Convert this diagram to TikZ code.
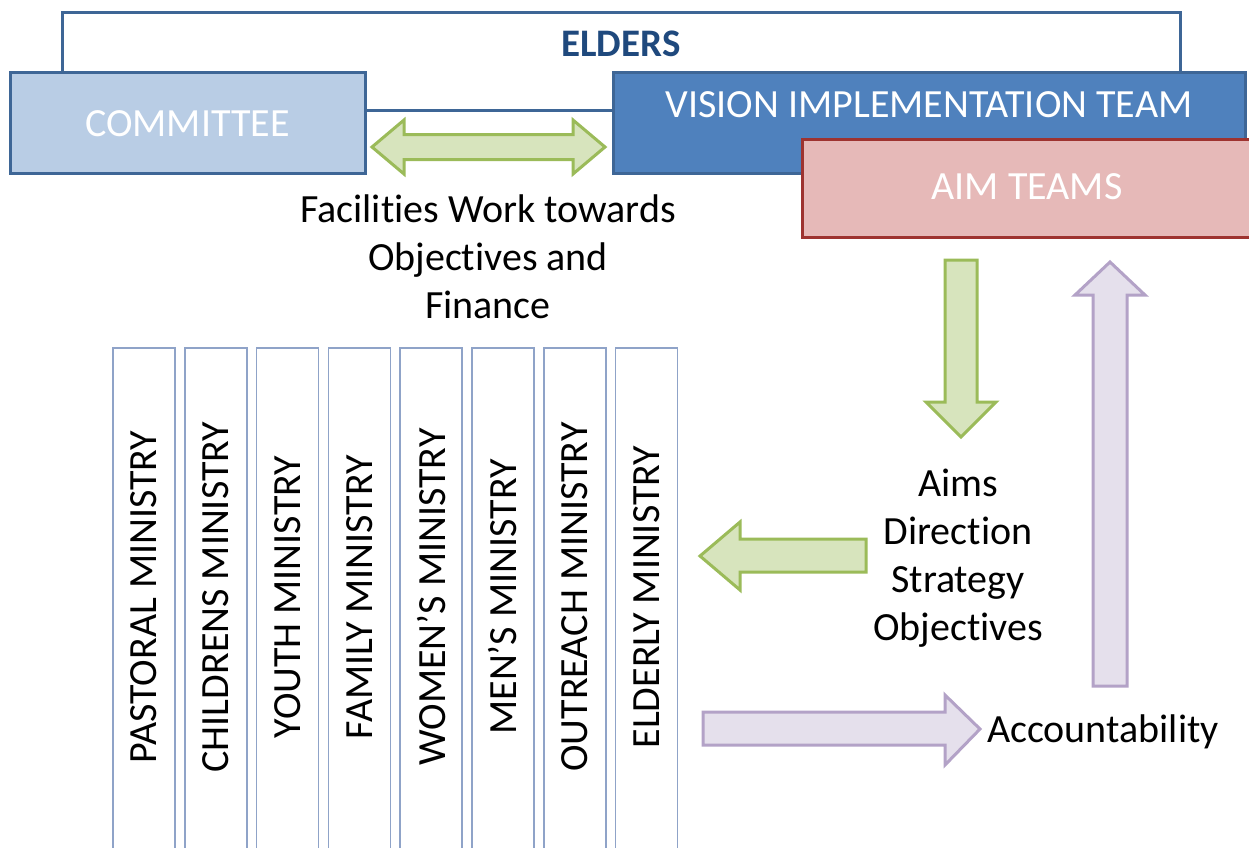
\documentclass[tikz,border=0pt]{standalone}
\usepackage{fontspec}
\setmainfont{Carlito}[Ligatures=NoCommon]
\usetikzlibrary{positioning}

\definecolor{boxline}{HTML}{3E6696}
\definecolor{elderstext}{HTML}{1F497D}
\definecolor{committeefill}{HTML}{B9CDE5}
\definecolor{vitfill}{HTML}{4F81BD}
\definecolor{aimfill}{HTML}{E6B9B8}
\definecolor{aimline}{HTML}{9E3330}
\definecolor{greenfill}{HTML}{D7E4BD}
\definecolor{greenline}{HTML}{9BBB59}
\definecolor{purplefill}{HTML}{E5E0EC}
\definecolor{purpleline}{HTML}{B3A2C7}
\definecolor{ministryline}{HTML}{8FA3C8}

\begin{document}
\begin{tikzpicture}[x=1pt,y=-1pt,
	box/.style={draw=boxline, line width=3pt, inner sep=0pt},
	boxtext/.style={text=white, inner sep=0pt, font=\fontsize{40}{48}\selectfont},
	txt/.style={inner sep=0pt, align=center, font=\fontsize{40}{48}\selectfont},
	ministry/.style={draw=ministryline, line width=1.5pt, minimum width=62pt, minimum height=540pt, anchor=north, inner sep=0pt},
	greenarrow/.style={draw=greenline, fill=greenfill, line width=3pt, line join=miter},
	purplearrow/.style={draw=purpleline, fill=purplefill, line width=3pt, line join=miter}]
	\clip (0,0) rectangle (1249,847);
	\fill[white] (0,0) rectangle (1249,847);

	% top boxes
	\node[box, fill=white, minimum width=1118pt, minimum height=98pt] (elders) at (621,61) {};
	\node[boxtext, text=elderstext, font=\fontsize{39}{46}\selectfont\bfseries] (elderslabel) at ([yshift=-33pt]elders.north) {ELDERS};
	\node[box, fill=committeefill, minimum width=355pt, minimum height=101pt] (committee) at (187.5,122.5) {};
	\node[boxtext] at ([yshift=-1pt]committee.center) {COMMITTEE};
	\node[box, fill=vitfill, minimum width=632pt, minimum height=101pt] (vit) at (929,122.5) {};
	\node[boxtext] (vitlabel) at ([yshift=-34pt]vit.north) {VISION IMPLEMENTATION TEAM};
	\node[box, draw=aimline, fill=aimfill, minimum width=450pt, minimum height=98pt] (aim) at (1027,188) {};
	\node[boxtext] (aimlabel) at ([yshift=1pt]aim.center) {AIM TEAMS};

	% arrows
	\draw[greenarrow] (372,147) -- (404,120) -- (404,134.5) -- (573,134.5) -- (573,120) -- (605,147)
		-- (573,174) -- (573,159.5) -- (404,159.5) -- (404,174) -- cycle;
	\draw[greenarrow] (945,260) -- (977,260) -- (977,402) -- (996,402) -- (961,437) -- (926,402) -- (945,402) -- cycle;
	\draw[greenarrow] (866,539) -- (740,539) -- (740,522) -- (700,556) -- (740,590) -- (740,572) -- (866,572) -- cycle;
	\draw[purplearrow] (1093,686) -- (1093,295) -- (1075,295) -- (1110,262) -- (1145,295) -- (1127,295) -- (1127,686) -- cycle;
	\draw[purplearrow] (703,712) -- (945,712) -- (945,695) -- (980,729) -- (945,765) -- (945,745) -- (703,745) -- cycle;

	% labels
	\node[txt] (facilities) at (488,257) {Facilities Work towards\\Objectives and\\Finance};
	\node[txt] (aims) at (958,558) {Aims\\Direction\\Strategy\\Objectives};
	\node[txt, anchor=west] (accountability) at (987,732) {Accountability};

	% ministries
	\foreach \name [count=\i from 0] in {PASTORAL MINISTRY, CHILDRENS MINISTRY, YOUTH MINISTRY, FAMILY MINISTRY,
		WOMEN’S MINISTRY, MEN’S MINISTRY, OUTREACH MINISTRY, ELDERLY MINISTRY}
	{
		\node[ministry] (col\i) at ({144+71.8*\i},347) {};
		\node[boxtext, text=black, rotate=90] (min\i) at ({144+71.8*\i},597) {\name};
	}
\end{tikzpicture}
\end{document}
